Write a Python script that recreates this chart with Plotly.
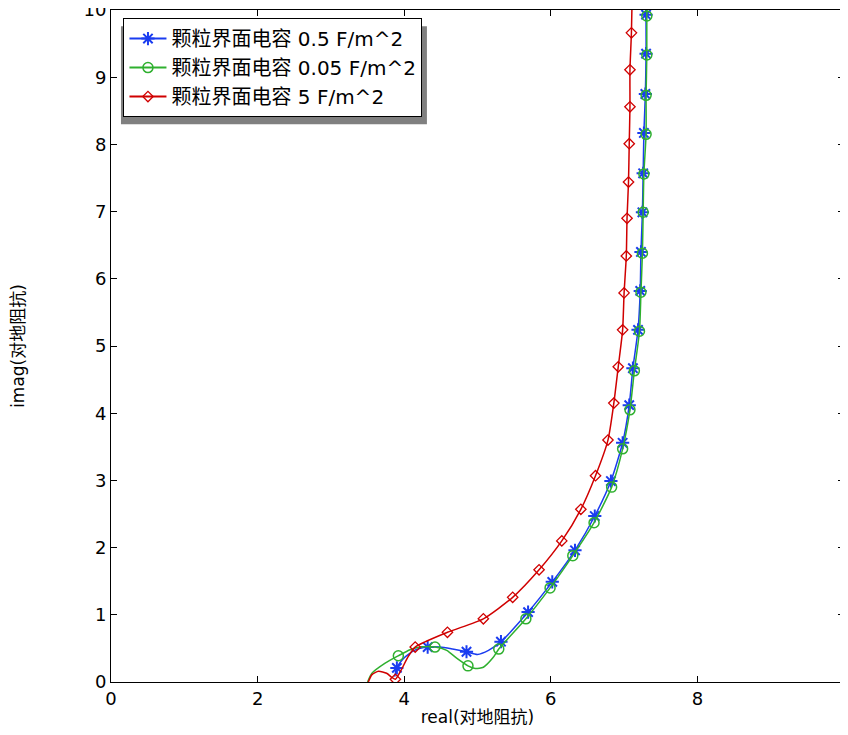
import plotly.graph_objects as go

# 颗粒界面电容 0.5 F/m^2 (blue, stars)
blue_x = [3.90, 4.32, 4.85, 5.32, 5.69, 6.02, 6.33, 6.60, 6.82, 6.98, 7.07,
          7.12, 7.19, 7.22, 7.23, 7.25, 7.26, 7.27, 7.29, 7.30, 7.30]
blue_y = [0.21, 0.52, 0.45, 0.60, 1.04, 1.49, 1.96, 2.47, 2.99, 3.56, 4.12,
          4.67, 5.24, 5.82, 6.40, 6.99, 7.57, 8.17, 8.75, 9.35, 9.93]
# extra points along the blue curve (no marker)
blue_line_x = [3.87, 3.90, 3.99, 4.14, 4.32, 4.49, 4.66, 4.85, 5.00, 5.15, 5.32] + blue_x[4:] + [7.31]
blue_line_y = [0.08, 0.21, 0.35, 0.47, 0.52, 0.52, 0.49, 0.45, 0.41, 0.47, 0.60] + blue_y[4:] + [10.2]

# 颗粒界面电容 0.05 F/m^2 (green, circles)
green_x = [3.92, 4.42, 4.87, 5.29, 5.66, 5.99, 6.30, 6.59, 6.83, 6.98, 7.08,
           7.14, 7.21, 7.23, 7.25, 7.26, 7.27, 7.30, 7.30, 7.31, 7.31]
green_y = [0.39, 0.52, 0.24, 0.49, 0.94, 1.40, 1.88, 2.37, 2.90, 3.47, 4.05,
           4.63, 5.22, 5.80, 6.38, 6.99, 7.56, 8.15, 8.73, 9.33, 9.91]
green_line_x = [3.50, 3.56, 3.74, 3.92, 4.08, 4.22, 4.42, 4.58, 4.72, 4.87, 4.97, 5.08, 5.21, 5.29] + green_x[4:] + [7.32]
green_line_y = [0.00, 0.13, 0.28, 0.39, 0.48, 0.52, 0.52, 0.47, 0.35, 0.24, 0.20, 0.22, 0.36, 0.49] + green_y[4:] + [10.2]

# 颗粒界面电容 5 F/m^2 (red, diamonds)
red_x = [3.88, 4.15, 4.59, 5.08, 5.48, 5.84, 6.15, 6.41, 6.61, 6.78, 6.86,
         6.92, 6.98, 7.00, 7.03, 7.04, 7.06, 7.07, 7.08, 7.08, 7.10]
red_y = [0.04, 0.52, 0.74, 0.94, 1.26, 1.67, 2.10, 2.57, 3.07, 3.60, 4.15,
         4.69, 5.24, 5.79, 6.34, 6.90, 7.44, 8.01, 8.56, 9.11, 9.66]
red_line_x = [3.51, 3.56, 3.65, 3.76, 3.83, 3.88, 3.96, 4.05, 4.15] + red_x[2:] + [7.11]
red_line_y = [0.00, 0.11, 0.16, 0.13, 0.07, 0.04, 0.18, 0.37, 0.52] + red_y[2:] + [10.2]

x_ticks = [0, 2, 4, 6, 8]
y_ticks = [0, 1, 2, 3, 4, 5, 6, 7, 8, 9, 10]

series = [
    ('颗粒界面电容 0.5 F/m^2', '#1a3cf0', 'asterisk-open', 11, 2, blue_line_x, blue_line_y, blue_x, blue_y),
    ('颗粒界面电容 0.05 F/m^2', '#2fb02f', 'circle-open', 10, 1.5, green_line_x, green_line_y, green_x, green_y),
    ('颗粒界面电容 5 F/m^2', '#d00000', 'diamond-open', 8, 1.3, red_line_x, red_line_y, red_x, red_y),
]

fig = go.Figure()
for name, color, symbol, size, mw, lx, ly, mx, my in series:
    fig.add_trace(go.Scatter(x=lx, y=ly, mode='lines', line=dict(color=color, width=1.5, shape='spline', smoothing=0.6),
                             showlegend=False, hoverinfo='skip'))
    fig.add_trace(go.Scatter(x=mx, y=my, mode='markers', showlegend=False,
                             marker=dict(symbol=symbol, size=size, color=color, line=dict(color=color, width=mw))))
    # legend entry only
    fig.add_trace(go.Scatter(x=[None], y=[None], mode='lines+markers', name=name,
                             line=dict(color=color, width=2),
                             marker=dict(symbol=symbol, size=size, color=color, line=dict(color=color, width=mw))))

# legend shadow
fig.add_shape(type='rect', xref='paper', yref='paper', x0=0.0136, x1=0.431, y0=0.830, y1=0.976,
              fillcolor='#808080', line=dict(width=0))

axis_style = dict(showgrid=False, zeroline=False, showline=True, linecolor='black', linewidth=1,
                  mirror='ticks', ticks='inside', ticklen=6, tickcolor='black', automargin=False,
                  ticklabeloverflow='allow', tickfont=dict(size=18, color='black'))

# page body has an 8px margin, so the figure is sized to fit inside the window
fig.update_layout(
    width=840, height=719,
    margin=dict(l=103, r=4, t=2, b=45),
    plot_bgcolor='white', paper_bgcolor='white',
    font=dict(family='DejaVu Sans, Noto Sans CJK SC', size=17, color='black'),
    xaxis=dict(range=[0, 10], tickvals=x_ticks, title=dict(text='real(对地阻抗)', standoff=8,
               font=dict(size=17)), **axis_style),
    yaxis=dict(range=[0, 10], tickvals=y_ticks, title=dict(text='imag(对地阻抗)', standoff=80,
               font=dict(size=17)), **axis_style),
    legend=dict(x=0.017, y=0.988, xanchor='left', yanchor='top', bgcolor='white',
                bordercolor='black', borderwidth=1, font=dict(size=20), itemwidth=37,
                tracegroupgap=0),
)

fig.write_html('out.html')
